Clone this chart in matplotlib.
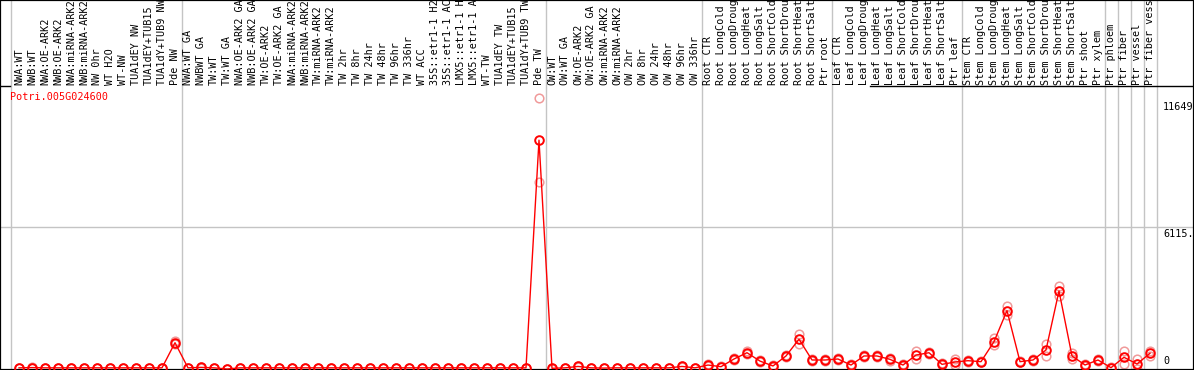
import numpy as np
import matplotlib
matplotlib.use("Agg")
import matplotlib.pyplot as plt
from matplotlib.transforms import blended_transform_factory

gene = "Potri.005G024600"

labels = [
    "NWA:WT", "NWB:WT", "NWA:OE-ARK2", "NWB:OE-ARK2", "NWA:miRNA-ARK2", "NWB:miRNA-ARK2",
    "NW 0hr", "WT H2O", "WT-NW", "TUA1dEY NW", "TUA1dEY+TUB15", "TUA1dY+TUB9 NW", "Pde NW",
    "NWA:WT GA", "NWBWT GA", "TW:WT", "TW:WT GA", "NWA:OE-ARK2 GA", "NWB:OE-ARK2 GA",
    "TW:OE-ARK2", "TW:OE-ARK2 GA", "NWA:miRNA-ARK2", "NWB:miRNA-ARK2", "TW:miRNA-ARK2",
    "TW:miRNA-ARK2", "TW 2hr", "TW 8hr", "TW 24hr", "TW 48hr", "TW 96hr", "TW 336hr",
    "WT ACC", "35S::etr1-1 H2", "35S::etr1-1 AC", "LMX5::etr1-1 H", "LMX5::etr1-1 A",
    "WT-TW", "TUA1dEY TW", "TUA1dEY+TUB15", "TUA1dY+TUB9 TW", "Pde TW",
    "OW:WT", "OW:WT GA", "OW:OE-ARK2", "OW:OE-ARK2 GA", "OW:miRNA-ARK2", "OW:miRNA-ARK2",
    "OW 2hr", "OW 8hr", "OW 24hr", "OW 48hr", "OW 96hr", "OW 336hr",
    "Root CTR", "Root LongCold", "Root LongDroug", "Root LongHeat", "Root LongSalt",
    "Root ShortCold", "Root ShortDrou", "Root ShortHeat", "Root ShortSalt", "Ptr root",
    "Leaf CTR", "Leaf LongCold", "Leaf LongDroug", "Leaf LongHeat", "Leaf LongSalt",
    "Leaf ShortCold", "Leaf ShortDrou", "Leaf ShortHeat", "Leaf ShortSalt", "Ptr leaf",
    "Stem CTR", "Stem LongCold", "Stem LongDroug", "Stem LongHeat", "Stem LongSalt",
    "Stem ShortCold", "Stem ShortDrou", "Stem ShortHeat", "Stem ShortSalt",
    "Ptr shoot", "Ptr xylem", "Ptr phloem", "Ptr fiber", "Ptr vessel", "Ptr fiber vess",
]

rep1 = [60, 80, 60, 60, 60, 60, 60, 60, 60, 60, 60, 60,
        1190,
        60, 100, 60, 0, 60, 60, 60, 60, 60, 60, 60, 60, 60, 60, 60, 60, 60,
        60, 60, 60, 60, 60, 60, 60, 60, 60, 60,
        11649,
        40, 60, 150, 60, 50, 60, 60, 60, 60, 60, 150, 60,
        200, 130, 480, 760, 390, 160, 620, 1500, 420, 420,
        470, 200, 610, 600, 470, 200, 790, 750, 240, 440,
        400, 350, 1320, 2710, 350, 420, 1075, 3570, 675,
        200, 430, 80, 774, 430, 774]

rep2 = [40, 40, 40, 40, 40, 40, 40, 40, 40, 40, 40, 40,
        1070,
        40, 40, 40, 0, 40, 40, 40, 40, 40, 40, 40, 40, 40, 40, 40, 40, 40,
        40, 40, 40, 40, 40, 40, 40, 40, 40, 40,
        8023,
        20, 40, 70, 40, 30, 40, 40, 40, 40, 40, 70, 40,
        140, 70, 380, 640, 290, 100, 500, 1060, 354, 354,
        390, 140, 510, 520, 360, 140, 410, 650, 160, 160,
        314, 280, 1030, 2310, 280, 354, 560, 3140, 445,
        144, 345, 32, 232, 0, 576]

separators = [-0.65, 12.5, 40.5, 52.5, 62.5, 72.5, 83.5, 84.5, 85.5, 86.5, 87.5]
tick_values = [11649, 6115, 0]
tick_texts = ["11649", "6115.", "0"]

W, H = 1194, 370
fig = plt.figure(figsize=(W / 100, H / 100), dpi=100)
ax = fig.add_axes([0, 0, 1, 1])

x = np.arange(len(labels))
r1 = np.array(rep1, dtype=float)
r2 = np.array(rep2, dtype=float)
mean = (r1 + r2) / 2

# pixel mapping: x_i = 19 + 13 i ; value 0 at row 369, 11649 at row 98
xl = -19 / 13
xr = (W - 19) / 13
upp = 11649 / (369 - 98)
ax.set_xlim(xl, xr)
ax.set_ylim(-(H - 369) * upp, 11649 + 98 * upp)

mono = "DejaVu Sans Mono"
fs = 7.3

for s in separators:
    ax.axvline(s, color="#c4c4c4", lw=1.0, zorder=1)
ax.axhline(6115, color="#c4c4c4", lw=1.0, zorder=1)

ax.plot(x, r1, ls="none", marker="o", ms=6.2, mfc="none", mec="#f09a9a", mew=1.1, zorder=2, clip_on=True)
ax.plot(x, r2, ls="none", marker="o", ms=6.2, mfc="none", mec="#f09a9a", mew=1.1, zorder=2, clip_on=True)
ax.plot(x, mean, color="#ff0000", lw=1.0, marker="o", ms=6.2, mfc="none", mec="#ff0000", mew=1.4, zorder=3)

# black partial line at bottom of the label area
ytop = 1 - 86 / H
ax.plot([0, 10 / W], [ytop, ytop], transform=ax.transAxes, color="black", lw=1.0, clip_on=False)
ax.plot([870 / W, 1], [ytop, ytop], transform=ax.transAxes, color="black", lw=1.0, clip_on=False)

trans = blended_transform_factory(ax.transData, ax.transAxes)
for i, lab in enumerate(labels):
    ax.text(i, 1 - 85 / H, lab, rotation=90, ha="center", va="bottom", family=mono,
            fontsize=fs, color="black", transform=trans, clip_on=True)

ax.text(10 / W, 1 - 97 / H, gene, transform=ax.transAxes, ha="left", va="center",
        family=mono, fontsize=fs, color="#ff0000")

tx = 1163 / W
ax.text(tx, 1 - 102 / H, tick_texts[0], transform=ax.transAxes, ha="left", va="top", family=mono, fontsize=fs)
ax.text(tx, 1 - 229 / H, tick_texts[1], transform=ax.transAxes, ha="left", va="top", family=mono, fontsize=fs)
ax.text(tx, 1 - 366 / H, tick_texts[2], transform=ax.transAxes, ha="left", va="bottom", family=mono, fontsize=fs)

ax.set_xticks([])
ax.set_yticks([])
for sp in ax.spines.values():
    sp.set_color("black")
    sp.set_linewidth(1.6)

fig.savefig("out.png", dpi=100)
